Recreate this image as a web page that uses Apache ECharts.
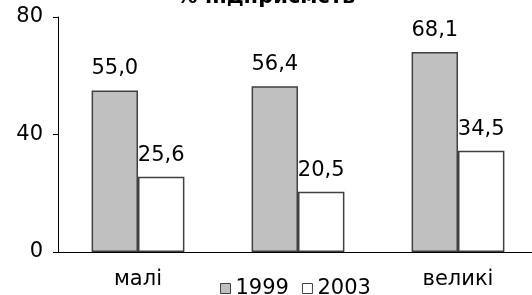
<!DOCTYPE html>
<html>
<head>
<meta charset="utf-8">
<script src="https://cdn.jsdelivr.net/npm/echarts@6/dist/echarts.min.js"></script>
<style>
html, body { margin: 0; padding: 0; background: #fff; }
#chart { width: 532px; height: 295px; }
</style>
</head>
<body>
<div id="chart"></div>
<script>
var categories = ['малі', 'середні', 'великі'];
var values1999 = [55.0, 56.4, 68.1];
var values2003 = [25.6, 20.5, 34.5];
var yTicks = [0, 40, 80];

var font = 'DejaVu Sans';
var chart = echarts.init(document.getElementById('chart'));

function fmt(p) {
    return p.value.toFixed(1).replace('.', ',');
}

chart.setOption({
    animation: false,
    title: {
        text: '% підприємств',
        left: 'center',
        top: -13,
        padding: [0, 0, 0, 18],
        textStyle: { fontFamily: font, fontSize: 21, fontWeight: 'bold', color: '#000' }
    },
    legend: {
        top: 278,
        left: 220,
        icon: 'rect',
        itemWidth: 10,
        itemHeight: 10,
        itemGap: 13,
        padding: 0,
        itemStyle: { borderColor: '#404040', borderWidth: 1 },
        textStyle: { fontFamily: font, fontSize: 21, color: '#000' },
        data: ['1999', '2003']
    },
    // plot area runs past the right edge of the picture, as in the original
    grid: { left: 58, width: 480, top: 17, bottom: 43, outerBoundsMode: 'none' },
    xAxis: {
        type: 'category',
        data: categories,
        axisLine: { lineStyle: { color: '#000' } },
        axisTick: { length: 5, lineStyle: { color: '#000' } },
        axisLabel: {
            fontFamily: font, fontSize: 21, color: '#000', margin: 17,
            // middle label sits under the legend in the original and is not shown
            interval: function (index) { return index !== 1; }
        }
    },
    yAxis: {
        type: 'value',
        min: yTicks[0],
        max: yTicks[yTicks.length - 1],
        interval: 40,
        axisLine: { show: true, lineStyle: { color: '#000' } },
        axisTick: { show: true, length: 5, lineStyle: { color: '#000' } },
        splitLine: { show: false },
        axisLabel: { fontFamily: font, fontSize: 21, color: '#000', margin: 15 }
    },
    series: [
        {
            name: '1999',
            type: 'bar',
            data: values1999,
            barGap: '0%',
            barCategoryGap: '42%',
            itemStyle: { color: '#c0c0c0', borderColor: '#404040', borderWidth: 1.5 },
            label: { show: true, position: 'top', distance: 11, formatter: fmt,
                     fontFamily: font, fontSize: 21, color: '#000' }
        },
        {
            name: '2003',
            type: 'bar',
            data: values2003,
            itemStyle: { color: '#fff', borderColor: '#404040', borderWidth: 1.5 },
            label: { show: true, position: 'top', distance: 11, formatter: fmt,
                     fontFamily: font, fontSize: 21, color: '#000' }
        }
    ]
});
</script>
</body>
</html>
